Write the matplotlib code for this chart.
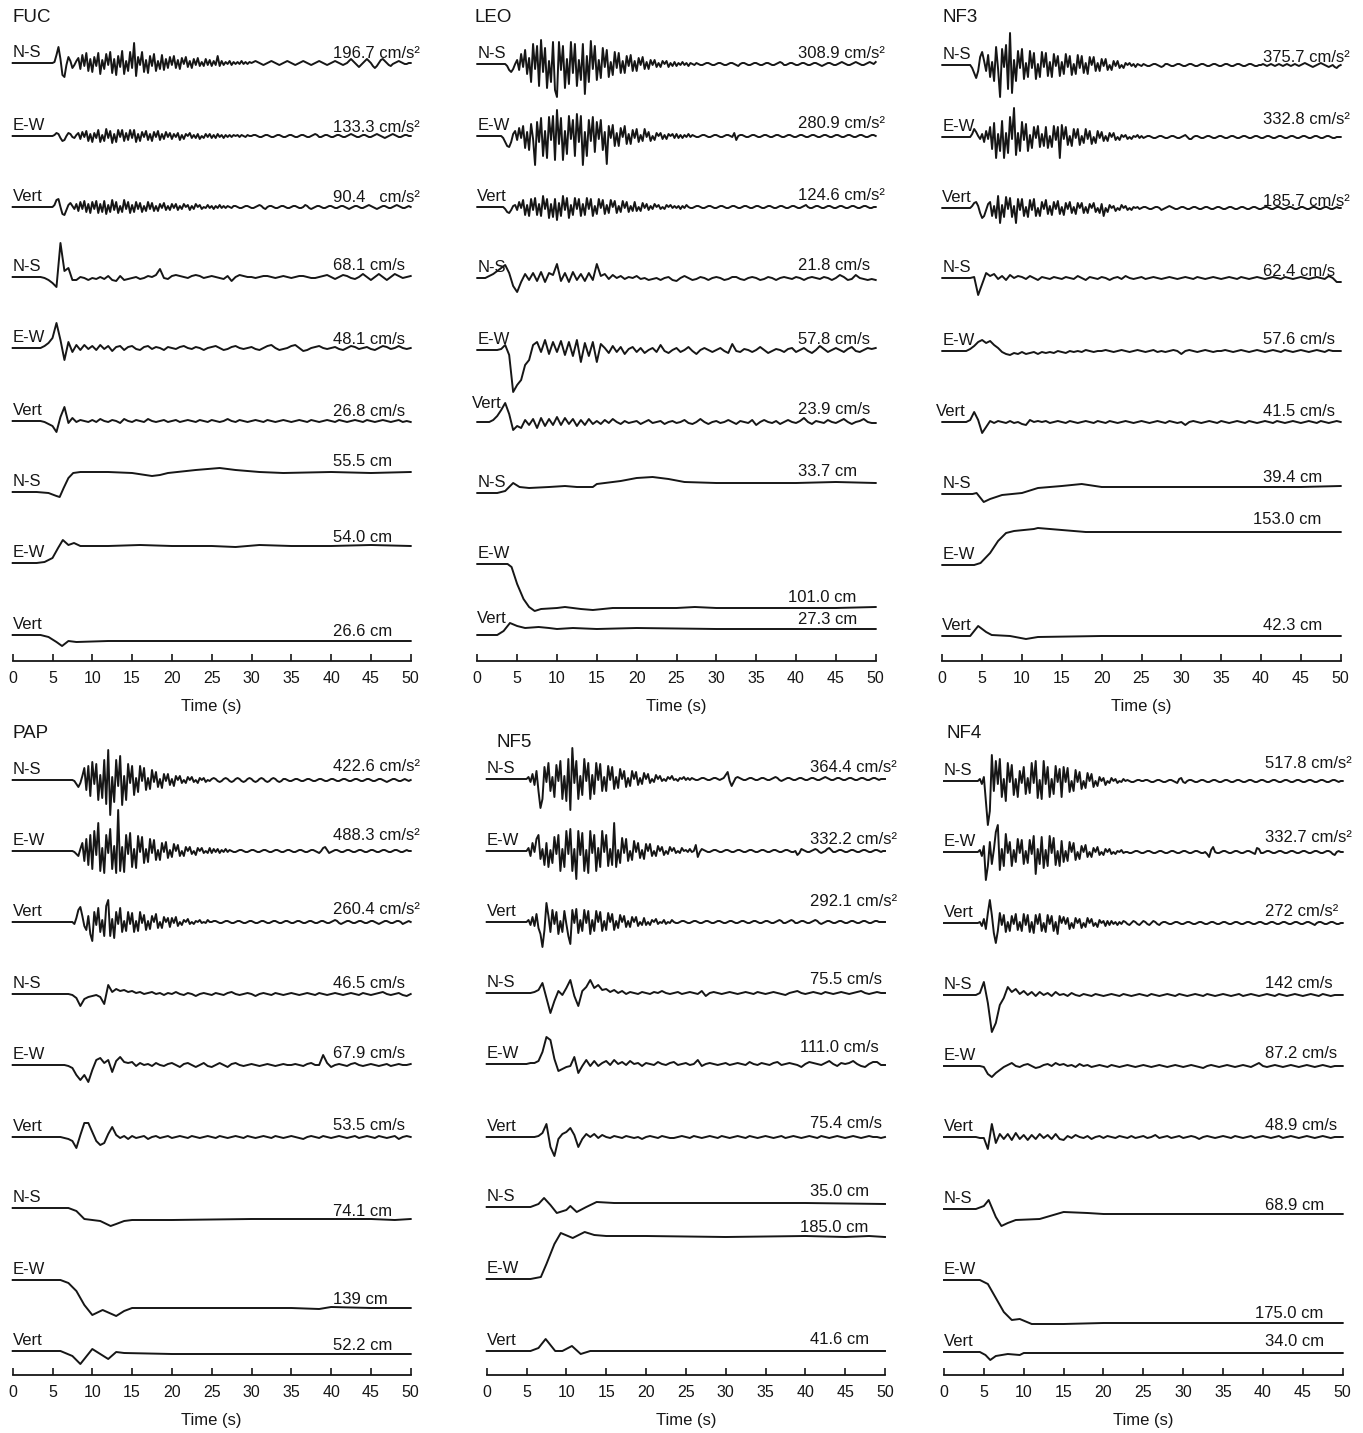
import numpy as np
import matplotlib
matplotlib.use('Agg')
import matplotlib.pyplot as plt

plt.rcParams['font.family'] = ['Liberation Sans', 'DejaVu Sans']

# ---- accelerations: one value every 0.25 s (0..50 s), deflection in px, up = positive
fuc_acc_ns = [0,0,0,0,0,0,0,0,0,0,0,0,0,0,0,0,0,0,0,0,
    0,1,8,16,4,-12,-14,-2,6,2,-5,-2,2,5,-6,8,-3,10,-8,4,
    -9,6,-3,10,-11,3,-6,9,-2,11,-10,4,-12,7,-4,12,-11,2,-8,11,
    -5,20,-13,6,-2,11,-9,3,-10,7,-3,9,-8,2,-6,8,-7,4,-5,6,
    -2,7,-5,3,-6,5,-1,6,-4,2,-5,4,-2,5,-3,1,-3,4,-2,3,
    -3,2,-2,7,-3,2,-2,1,-1,2,-2,1,-1,1,-1,2,-1,1,-1,1,
    0,1,2,1,0,-1,-2,-1,0,1,2,1,0,-1,-2,-1,0,1,2,1,
    0,-1,-2,-1,0,1,2,1,0,-1,-2,-1,0,1,2,1,0,-1,-2,-1,
    0,1,2,1,0,-1,-2,-1,0,2,4,2,0,-2,-4,-2,0,2,4,2,
    0,-3,-5,-3,0,3,4,2,0,-2,-3,-1,0,1,2,1,0,-1,-1,0, 0]
fuc_acc_ew = [0,0,0,0,0,0,0,0,0,0,0,0,0,0,0,0,0,0,0,0,
    0,1,3,2,-2,-5,-4,0,3,2,-1,-2,1,3,-3,4,-1,5,-5,2,
    -6,3,-2,6,-6,1,-5,7,-2,5,-7,2,-6,6,-1,6,-5,3,-4,6,
    -2,6,-6,2,-5,4,-1,5,-4,2,-5,4,-1,5,-4,2,-3,4,-1,3,
    -3,2,-1,3,-4,1,-3,2,0,3,-2,1,-2,2,-3,0,-2,2,-1,2,
    -2,1,-2,2,-1,1,-2,1,-1,1,-1,1,0,1,-1,1,0,-1,1,0,
    0,1,1,0,-1,-1,0,1,1,0,-1,-1,0,1,1,0,-1,-1,0,1,
    1,0,-1,-1,0,1,1,0,-1,-1,0,1,2,1,-1,-1,0,1,1,0,
    -1,-1,0,1,1,0,-1,-1,0,1,2,1,0,-1,-1,0,1,1,0,-1,
    -1,0,1,2,1,0,-1,-2,-1,0,1,2,1,0,-1,-1,0,1,1,0, 0]
fuc_acc_v = [0,0,0,0,0,0,0,0,0,0,0,0,0,0,0,0,0,0,0,0,
    0,2,7,8,0,-7,-8,-3,2,4,1,-2,3,-4,5,-2,6,-5,3,-6,
    5,-2,6,-6,3,-5,6,-7,2,-5,7,-3,5,-6,1,-5,7,-2,5,-6,
    2,-5,5,-2,4,-5,1,-4,5,-2,4,-4,1,-4,3,-1,4,-3,1,-3,
    3,-1,3,-3,1,-2,3,0,2,-3,1,-2,3,0,2,-2,0,-1,2,-1,
    1,-2,1,-1,2,-1,1,-1,1,0,-1,1,1,0,-1,-1,0,1,1,0,
    -1,-1,0,1,2,1,-1,-2,0,1,1,0,-1,-1,0,1,1,0,-1,-1,
    0,1,1,0,-1,-1,0,2,1,-1,-2,-1,0,1,1,0,-1,-1,0,1,
    1,0,-1,-1,0,1,1,0,-1,-2,-1,0,1,1,0,-1,-1,0,1,2,
    1,0,-1,-2,-1,0,1,1,0,-1,-1,0,1,2,1,0,-1,-1,0,1, 0]

leo_acc_ns = [0,0,0,0,0,0,0,0,0,0,0,0,0,0,0,-2,-6,-8,-5,0,
    4,-6,10,-3,14,-10,6,-18,20,-5,18,-22,24,-8,16,-24,3,-18,22,-26,
    -33,22,-6,18,-24,5,-20,22,-9,20,-22,4,-16,20,-30,8,-18,23,-5,18,
    -16,4,-14,16,-3,14,-13,2,-11,12,-4,11,-9,3,-9,8,-2,9,-7,3,
    -7,6,-1,7,-5,2,-5,4,-1,4,-3,1,-3,3,0,3,-3,1,-2,2,
    -2,1,-1,2,-1,1,-2,1,0,-1,1,0,-1,-1,0,1,1,0,-1,-1,
    0,1,1,0,-1,-1,0,1,1,0,-1,-2,0,1,1,0,-1,-1,0,1,
    1,0,-1,-1,0,1,1,0,-1,-1,0,1,2,1,-1,-1,0,1,1,0,
    -1,-1,0,1,1,0,-1,-1,0,1,1,0,-1,-2,-1,0,1,1,0,-1,
    -1,0,1,2,1,0,-1,-1,0,1,2,1,0,-1,-1,0,1,2,1,0, 2]
leo_acc_ew = [0,0,0,0,0,0,0,0,0,0,0,0,0,-2,-6,-10,-11,-6,2,5,
    -4,8,-2,10,-12,4,-14,12,-3,-29,14,-6,18,-20,5,-22,19,-4,20,-24,
    26,-8,18,-24,5,-18,20,-3,16,-20,22,-6,20,-29,4,-20,16,-5,19,-16,
    14,-3,16,-14,4,-28,10,-2,11,-10,3,-10,8,-1,10,-8,2,-8,6,-2,
    7,-6,1,-5,7,-1,4,-5,0,-4,3,0,3,-3,1,-3,2,0,2,-2,
    2,-2,1,-2,1,-1,2,-1,1,0,-1,-1,0,1,1,0,-1,-1,0,1,
    1,0,-1,-1,0,1,1,0,-1,3,-4,0,1,1,0,-1,-1,0,1,1,
    0,-1,-1,0,1,1,0,-1,-1,0,1,1,0,-1,-1,0,1,1,0,-1,
    -1,0,1,1,0,-1,-1,0,1,1,0,-1,-1,0,1,1,0,-1,-1,0,
    1,1,0,-1,-1,0,1,1,0,-1,-1,0,1,1,0,-1,-1,0,1,1, 0]
leo_acc_v = [0,0,0,0,0,0,0,0,0,0,0,0,0,0,-2,-5,-6,-3,1,2,
    -3,5,-1,7,-8,2,-9,8,-3,9,-8,3,-9,11,-2,8,-11,3,-10,8,
    -13,4,-9,11,-3,9,-11,2,-8,9,-2,8,-9,3,-8,9,-2,8,-9,1,
    -7,8,-1,7,-7,2,-6,7,0,6,-6,1,-5,6,-1,5,-5,1,-4,5,
    -4,0,-4,4,-1,3,-3,1,-2,3,0,2,-2,0,-2,2,0,2,-1,1,
    -1,1,-2,1,-1,2,0,-1,-1,0,1,1,0,-1,-1,0,1,1,0,-1,
    -1,0,1,1,0,-1,-1,0,1,1,0,-1,-1,0,1,1,0,-1,-1,0,
    1,1,0,-1,-1,0,1,1,0,-1,-1,0,1,1,0,-1,-1,0,1,1,
    0,-1,-1,0,1,2,0,-1,-1,0,1,1,0,-1,-1,0,1,1,0,-1,
    -1,0,1,1,0,-1,-1,0,1,1,0,-1,-1,0,1,1,0,-1,-1,0, 0]

nf3_acc_ns = [0,0,0,0,0,0,0,0,0,0,0,0,0,0,0,-3,-8,-13,-6,8,
    13,4,-6,10,-12,3,-16,18,-4,-32,16,-2,20,-24,32,-28,5,-16,14,-3,
    16,-14,2,-12,14,-3,12,-14,1,-12,13,-2,12,-11,3,-12,11,-1,9,-11,
    3,-9,11,-2,9,-10,1,-9,10,-3,9,-8,2,-9,8,0,8,-6,2,-6,
    6,-1,6,-5,0,-5,4,-1,4,-3,0,-3,2,0,2,-1,1,-2,1,0,
    -1,1,0,-1,-1,0,1,1,0,-1,-2,-1,1,1,0,-1,-1,0,1,1,
    0,-1,-1,0,1,1,0,-1,-1,0,1,1,0,-1,-1,0,1,1,0,-1,
    -1,0,1,1,0,-1,-1,0,1,1,0,-1,-1,0,1,1,0,-1,-1,0,
    0,1,0,-1,0,1,0,-1,0,1,0,-1,0,1,0,-1,0,1,0,-1,
    0,1,2,1,0,-1,-2,-1,0,1,2,1,0,-1,-2,-1,0,-2,-3,-1, 0]
nf3_acc_ew = [0,0,0,0,0,0,0,0,0,0,0,0,0,0,0,3,8,5,1,-2,
    3,-5,6,-2,10,-12,14,-21,3,-14,16,-21,4,-16,20,-2,29,-18,4,-14,
    15,-3,13,-14,2,-11,10,-1,11,-10,3,-9,10,-11,1,-10,11,-3,10,-21,
    12,-2,10,-8,1,-9,8,-1,8,-8,1,-6,8,-2,6,-7,0,-6,6,-1,
    5,-4,1,-4,4,0,4,-3,0,-3,2,0,2,-2,0,-2,1,0,2,-1,
    1,-1,0,1,1,0,-1,-1,0,1,1,0,-1,-1,0,1,1,0,-1,-1,
    0,1,2,0,-2,-2,0,1,1,0,-1,-1,0,1,1,0,-1,-1,0,1,
    1,0,-1,-1,0,1,1,0,-1,-1,0,1,1,0,-1,-1,0,1,1,0,
    -1,-1,0,1,1,0,-1,-1,0,1,1,0,-1,-1,0,1,1,0,-1,-1,
    0,1,1,0,-1,-1,0,1,1,0,-1,-1,0,1,1,0,-1,-1,0,0, 0]
nf3_acc_v = [0,0,0,0,0,0,0,0,0,0,0,0,0,0,0,2,5,6,2,-5,
    -10,-8,-2,4,6,-8,2,-10,12,-15,3,-9,11,-1,10,-9,2,-15,9,-2,
    9,-8,1,-9,8,-2,9,-8,0,-8,6,-1,8,-6,2,-7,6,-1,7,-6,
    1,-7,5,-1,6,-5,1,-6,5,0,5,-5,1,-5,4,0,5,-4,0,-5,
    4,-8,0,-4,3,0,2,-3,0,-2,3,0,2,-2,0,-2,1,0,1,-1,
    0,1,1,0,-1,-1,0,1,1,0,-2,-1,0,1,2,1,0,-1,-1,0,
    1,1,0,-1,-1,0,1,1,0,-1,-1,0,1,1,0,-1,-1,0,1,1,
    0,-1,-1,0,1,1,0,-1,-1,0,1,1,0,-1,-1,0,1,1,0,-1,
    -1,0,1,1,0,-1,-1,0,1,1,0,-1,-1,0,1,1,0,-1,-1,0,
    1,1,0,-1,-1,0,1,1,0,-1,-1,0,1,1,0,-1,-1,0,1,0, 0]

pap_acc_ns = [0,0,0,0,0,0,0,0,0,0,0,0,0,0,0,0,0,0,0,0,
    0,0,0,0,0,0,0,0,0,0,0,-1,-4,-7,-3,4,12,-10,14,-16,
    18,-4,16,-20,5,-18,20,-24,30,-35,3,-22,20,-6,24,-25,4,-20,16,-3,
    14,-15,2,-12,14,-1,12,-10,2,-9,10,-2,8,-7,1,-8,6,-1,6,-5,
    1,-6,4,0,4,-3,0,-3,3,0,3,-2,0,-3,2,0,2,-2,0,-1,
    1,2,1,-1,-2,-1,1,2,1,-1,-2,-1,1,2,1,-1,-2,-1,1,2,
    1,-1,-2,-1,1,2,1,-1,-2,-1,1,2,1,-1,-2,-1,1,1,0,-1,
    -1,0,1,1,0,-1,-1,0,1,1,0,-1,-1,0,1,1,0,-1,-1,0,
    1,1,0,-1,-1,0,1,1,0,-1,-1,0,1,1,0,-1,-1,0,1,1,
    0,-1,-1,0,1,1,0,-1,-2,-1,0,1,1,0,-1,-1,0,1,0,-1, 0]
pap_acc_ew = [0,0,0,0,0,0,0,0,0,0,0,0,0,0,0,0,0,0,0,0,
    0,0,0,0,0,0,0,0,0,0,0,-1,-3,-5,2,8,-10,12,-14,16,
    -18,20,-4,28,-20,3,-22,16,-2,22,-18,5,-22,41,-20,4,-21,16,-3,18,
    -16,2,-17,15,-1,14,-12,2,-11,12,-2,11,-9,1,-9,8,-1,9,-7,1,
    -6,7,0,6,-5,0,-5,4,0,4,-3,0,-4,3,0,3,-2,0,-2,3,
    -2,2,-1,2,-2,1,-1,2,-1,1,0,-1,-1,0,1,1,0,-1,-1,0,
    1,1,0,-1,-1,0,1,1,0,-1,-1,0,1,1,0,-1,-1,0,1,1,
    0,-1,-1,0,1,1,0,-1,-1,0,1,1,0,-1,-2,0,3,4,1,-2,
    -1,0,1,1,0,-1,-1,0,1,1,0,-1,-1,0,1,1,0,-1,-1,0,
    1,1,0,-1,-1,0,1,1,0,-1,-1,0,1,1,0,-1,-1,0,1,0, 0]
pap_acc_v = [0,0,0,0,0,0,0,0,0,0,0,0,0,0,0,0,0,0,0,0,
    0,0,0,0,0,0,0,0,0,0,0,-2,4,12,15,6,-4,-8,6,-12,
    -19,10,-3,14,-10,2,-14,16,22,-14,3,-16,10,-2,14,-10,1,-9,10,-2,
    9,-10,1,-9,10,-1,7,-8,1,-7,6,0,8,-6,0,-6,5,0,4,-5,
    4,-1,5,-4,0,-3,2,0,3,-2,0,-2,1,0,2,-1,0,-1,2,0,
    0,1,1,0,-1,-1,0,1,1,0,-1,-1,0,1,1,0,-1,-1,0,1,
    1,0,-1,-1,0,1,1,0,-1,-1,0,1,1,0,-1,-1,0,1,1,0,
    -1,-1,0,1,1,0,-1,-1,0,1,1,0,-1,-1,0,1,1,0,-1,-1,
    0,1,2,1,-1,-2,-1,0,1,1,0,-1,-1,0,1,1,0,-1,-1,0,
    1,1,0,-1,-2,-1,0,1,1,0,-1,-1,0,1,1,0,-2,-1,0,1, 0]

nf5_acc_ns = [0,0,0,0,0,0,0,0,0,0,0,0,0,0,0,0,0,0,0,0,
    0,2,-3,5,-6,8,-12,-29,-20,12,-3,16,-12,2,-18,14,-2,18,-20,3,
    -22,20,-31,31,-4,18,-20,3,-16,20,-2,16,-20,4,-15,16,-1,15,-12,2,
    -12,13,-1,12,-10,2,-9,10,0,8,-8,1,-7,8,0,7,-6,1,-5,6,
    0,5,-4,0,-3,4,0,3,-2,0,-2,2,0,3,-1,0,-2,1,0,2,
    -1,1,-1,1,0,-1,-1,0,1,1,0,-1,-1,0,1,1,0,-1,0,1,
    4,7,-2,-7,-3,1,2,1,0,-1,-1,0,1,1,0,-1,-1,0,1,1,
    0,-1,-1,0,1,2,1,-1,-2,-1,0,1,1,0,-1,-1,0,1,1,0,
    -1,-1,0,1,1,0,-1,-1,0,1,2,1,0,-1,-1,0,1,1,0,-1,
    -1,0,1,1,0,-1,-1,0,1,1,0,-1,-1,0,1,1,0,-1,0,0, 0]
nf5_acc_ew = [0,0,0,0,0,0,0,0,0,0,0,0,0,0,0,0,0,0,0,0,
    0,3,-5,8,-1,12,16,-8,2,-14,8,-16,1,-12,14,-3,16,-20,2,-16,
    20,-3,22,-20,2,-28,20,-4,18,-20,1,-22,20,-2,16,-20,3,-16,20,-1,
    16,-15,2,-14,28,-16,1,-12,13,-2,12,-10,0,-9,10,-1,8,-7,1,-8,
    7,0,7,-5,0,-5,5,0,4,-4,0,-3,4,0,3,-2,0,-2,3,0,
    1,-1,2,-1,0,6,-6,-1,2,1,0,-1,-1,0,1,1,0,-1,-1,0,
    1,1,0,-1,-1,0,1,1,0,-1,-1,0,1,1,0,-1,-1,0,1,1,
    0,-1,-1,0,1,1,0,-1,-1,0,1,1,0,-1,-1,0,-4,-2,2,1,
    0,-1,-1,0,1,2,1,-1,-2,-1,0,2,3,1,-1,-1,0,1,1,0,
    -1,-1,0,1,1,0,-1,-1,0,1,1,0,-1,-1,0,1,1,0,-1,0, 0]
nf5_acc_v = [0,0,0,0,0,0,0,0,0,0,0,0,0,0,0,0,0,0,0,0,
    0,2,-3,5,-4,8,-6,-12,-25,-8,19,6,-10,12,-2,10,-12,1,-10,11,
    -2,-14,-22,12,-1,13,-11,2,-9,12,-1,11,-12,2,-9,11,0,10,-9,1,
    -8,9,0,8,-8,1,-6,7,0,6,-5,1,-5,5,0,5,-4,0,-3,4,
    -3,0,-3,2,0,3,-2,0,-1,2,-2,0,-1,2,0,-1,-1,0,1,1,
    0,-1,-1,0,1,1,0,-1,-1,0,1,1,0,-1,-1,0,1,1,0,-1,
    -1,0,1,1,0,-1,-1,0,1,1,0,-1,-1,0,1,1,0,-1,-1,0,
    1,1,0,-1,-1,0,1,2,1,-1,-1,0,1,2,1,-1,-1,0,1,1,
    0,-1,-1,0,1,2,1,-1,-2,-1,0,1,1,0,-1,-1,0,1,1,0,
    -1,-1,0,1,1,0,-1,-1,0,1,1,0,-1,-1,0,1,1,0,0,0, 0]

nf4_acc_ns = [0,0,0,0,0,0,0,0,0,0,0,0,0,0,0,0,0,0,2,-3,
    4,-20,-44,-30,26,-10,20,-3,22,-16,2,-20,18,-1,16,-14,2,-16,10,-2,
    14,-13,3,-12,18,-2,20,-17,1,-18,20,-3,14,-16,2,-13,15,-1,12,-16,
    14,-1,13,-11,0,-10,11,-1,9,-8,0,-7,8,0,7,-6,0,-5,4,0,
    3,-4,0,-2,3,0,2,-2,0,-1,2,0,1,0,-1,-1,0,1,1,0,
    0,1,1,0,-1,-1,0,1,1,0,-1,-1,0,1,1,0,-1,-2,2,3,
    -1,-2,0,1,1,0,-1,-1,0,1,1,0,-1,-1,0,1,1,0,-1,-1,
    0,1,1,0,-1,-1,0,1,1,0,-1,-1,0,1,1,0,-1,-1,0,1,
    1,0,-1,-1,0,1,1,0,-1,-1,0,1,1,0,-1,-1,0,1,1,0,
    -1,-1,0,1,1,0,-1,-1,0,1,1,0,-1,-1,0,1,1,0,-1,0, 0]
nf4_acc_ew = [0,0,0,0,0,0,0,0,0,0,0,0,0,0,0,0,0,0,2,-4,
    6,-28,-14,10,-12,2,20,27,-18,3,-14,18,-1,10,-14,2,-10,13,-1,12,
    -12,1,-11,12,-2,16,-22,3,-12,15,-16,2,-14,16,-1,14,-13,1,-14,11,
    -10,1,-9,10,0,9,-8,0,-7,6,0,7,-5,0,-5,4,0,5,-3,0,
    -3,3,0,3,-2,0,-2,1,0,2,-1,0,0,-1,-1,0,1,1,0,-1,
    -1,0,1,1,0,-1,-1,0,1,1,0,-1,-1,0,1,1,0,-1,-1,0,
    1,1,0,-1,-1,0,1,1,0,-1,-1,0,-2,-5,2,5,0,-1,-1,0,
    1,1,0,-1,-1,0,1,1,0,-1,-1,0,1,1,0,-1,-2,4,3,-1,
    -1,0,1,1,0,-1,-1,0,1,1,0,-1,-1,0,1,1,0,-1,-1,0,
    1,1,0,-1,-1,0,1,1,0,-1,-1,0,1,1,0,-2,-3,0,1,0, 0]
nf4_acc_v = [0,0,0,0,0,0,0,0,0,0,0,0,0,0,0,0,0,0,1,-3,
    4,-6,10,23,8,-10,-20,-8,10,-2,8,-9,1,-8,7,-1,9,-7,1,-8,
    9,-2,8,-9,1,-10,8,-1,9,-8,0,-9,8,-1,7,-8,1,-11,7,0,
    6,-1,5,-6,0,-5,5,0,4,-5,0,-4,5,0,4,-3,0,-4,3,0,
    2,-3,2,-2,2,-1,1,-2,1,-1,2,1,-1,-2,0,2,1,-1,-2,0,
    2,1,-1,-2,0,2,1,-1,-2,0,1,1,0,-1,-1,0,1,1,0,-1,
    -1,0,1,1,0,-1,-1,0,1,1,0,-1,-1,0,1,1,0,-1,-1,0,
    1,1,0,-1,-1,0,1,1,0,-1,-1,0,1,1,0,-1,-1,0,1,1,
    0,-1,-1,0,1,1,0,-1,-1,0,1,1,0,-1,-1,0,1,1,0,-1,
    -1,0,1,1,0,-1,-2,0,1,1,0,-1,-1,0,1,1,0,-1,-1,0, 0]

# ---- velocities: one value every 0.5 s
fuc_vel_ns = [0,0,0,0,0,0,0,0,-1,-3, -6,-10,34,6,9,-3,-3,0,-1,-3, -1,-2,0,-2,1,-3,-4,1,-3,-2,
    -1,0,-2,-1,1,0,2,8,-1,-2, 1,2,1,0,-1,1,2,1,-1,0, 1,0,-1,-2,1,-4,0,2,1,0,
    0,-1,0,1,1,0,-1,0,1,0, -1,0,1,1,0,-1,-1,0,1,2, 0,-2,0,2,1,-1,-2,0,3,0,
    -3,0,3,0,-3,0,3,1,-1,0, 1]
fuc_vel_ew = [0,0,0,0,0,0,0,0,2,5, 10,25,8,-12,6,-4,3,-2,3,-1, 2,-2,3,-1,2,-3,1,2,-2,1,
    2,-1,-2,1,2,-1,1,0,-2,1, 0,-1,1,2,0,-1,1,0,-2,0, 1,2,0,-2,-1,1,2,0,-1,0,
    1,-1,-2,0,2,3,0,-2,-1,0, 2,3,0,-3,-2,0,1,2,0,-1, 0,1,-1,-2,0,2,1,-1,0,1,
    -1,-2,0,2,1,-1,0,2,0,-1, 0]
fuc_vel_v = [0,0,0,0,0,0,0,0,-1,-3, -5,-11,4,14,-2,3,-1,1,0,-1, 1,-1,2,0,-1,1,0,-2,2,0,
    -1,1,0,-1,2,0,-1,0,1,-1, 0,1,-1,0,1,0,-1,1,0,-1, 1,0,-1,0,2,0,-1,1,0,-1,
    0,1,0,-1,1,0,-1,0,1,0, -1,0,1,0,-1,1,0,-1,0,1, 0,-1,1,0,-1,0,1,0,-1,1,
    0,-1,0,1,0,-1,0,1,-1,0, -1]

leo_vel_ns = [0,0,0,2,4,7,10,13,5,-8, -14,-4,4,-2,5,-3,6,-4,5,3, 14,-3,5,-4,6,-2,4,-3,5,-2,
    14,2,4,-1,3,0,2,-1,1,0, 2,-1,0,-2,-1,0,-2,0,1,-2, -3,0,2,0,-2,-1,1,0,-2,0,
    1,0,-2,-1,1,1,-1,-2,0,1, 0,-2,-1,1,0,-2,0,1,0,-1, 1,0,-2,0,1,0,-1,1,0,-2,
    0,3,1,-2,-1,3,0,-1,-2,-1, -2]
leo_vel_ew = [0,0,0,0,0,0,1,5,-5,-42, -35,-30,-15,-10,5,8,-2,10,-4,8, -2,9,-5,8,-6,10,-12,7,-6,8,
    -12,6,2,-3,4,-2,3,-4,1,3, -2,2,-3,0,2,-2,5,-1,-3,0, 2,-2,0,3,-1,-4,0,2,0,-2,
    0,2,-1,-3,6,-1,-2,1,0,-2, 0,3,0,-3,-1,1,0,-2,1,2, -2,0,2,-1,-3,0,4,1,-2,0,
    2,0,-2,1,3,-1,-2,0,2,1, 2]
leo_vel_v = [0,0,0,0,2,6,12,19,8,-8, -4,-6,2,-3,3,-6,4,-4,3,-3, 5,-3,4,-2,3,-4,2,-3,3,-2,
    1,-2,2,-1,3,0,-2,1,-1,0, 1,-2,0,2,-1,0,1,-2,0,1, -1,0,2,-1,-2,0,3,0,-2,0,
    1,-1,0,2,0,-2,1,0,-1,2, -3,0,2,0,-1,1,-2,0,2,0, -1,1,4,0,-2,1,0,-1,2,0,
    -1,1,3,0,-2,0,1,3,0,-1, -1]

nf3_vel_ns = [0,0,0,0,0,0,0,0,1,-17, -6,5,2,4,-1,2,-2,3,0,2, 1,-1,2,0,-2,1,0,-1,1,0,
    -1,1,0,-1,2,0,-2,1,0,-1, 1,0,-2,0,1,-1,2,0,-1,0, 1,-1,0,1,0,-1,0,1,0,-1,
    0,1,0,-1,1,0,-1,0,1,0, -1,0,1,0,-1,1,0,-1,0,1, 0,-1,0,1,0,-1,1,0,-1,0,
    1,0,-1,0,1,0,-1,2,0,-4, -4]
nf3_vel_ew = [0,0,0,0,0,0,0,2,5,9, 11,8,10,6,3,-1,-3,-4,-2,-3, -1,-3,-2,-1,-3,-1,-2,-1,-2,0,
    -1,-2,0,-1,0,-1,1,0,-1,0, 0,1,0,-1,0,1,0,-1,0,1, 0,-1,0,1,-1,0,-1,0,1,0,
    -3,0,1,0,-1,0,1,0,-1,0, 0,1,0,-1,0,1,0,-1,0,1, 0,-1,0,1,0,-1,1,0,-1,0,
    1,0,-1,0,1,0,-1,1,0,0, 0]
nf3_vel_v = [0,0,0,0,0,0,0,2,10,2, -11,-5,1,-1,1,0,-1,1,-1,0, -2,-3,2,0,1,0,1,-1,0,1,
    0,-1,1,0,-1,0,1,0,-1,1, 0,-1,1,0,-1,0,1,0,-1,0, 1,0,-1,0,1,0,-1,1,0,-1,
    0,-3,0,1,0,-1,0,1,0,-1, 1,0,-1,0,1,0,-1,1,0,-1, 0,1,0,-1,1,0,-1,0,1,0,
    -1,0,1,0,-1,1,0,-1,0,1, 0]

pap_vel_ns = [0,0,0,0,0,0,0,0,0,0, 0,0,0,0,0,-1,-4,-12,-5,-3, -2,-1,-3,-10,9,2,5,3,4,2,
    3,1,2,0,1,2,0,1,-1,1, 0,2,0,-1,1,0,-2,0,1,0, -1,1,0,-1,1,2,0,-1,0,1,
    0,-2,0,1,0,-1,1,0,-1,0, 1,0,-1,0,1,0,-1,1,0,-1, 0,1,0,-1,0,1,0,-1,1,0,
    -1,0,1,2,0,-1,0,1,-1,-2, 0]
pap_vel_ew = [0,0,0,0,0,0,0,0,0,0, 0,0,0,0,-1,-3,-10,-15,-10,-17, -5,5,7,2,5,-7,4,8,3,2,
    3,-1,2,0,1,-1,2,0,-1,1, 2,0,-2,1,2,0,-2,0,2,-1, -2,0,2,0,-2,1,2,0,-1,0,
    1,0,-1,0,1,0,-1,0,1,0, 0,1,0,-1,1,2,0,0,10,2, -2,0,1,0,-1,1,2,0,-1,0,
    1,0,-1,0,1,-1,0,1,0,0, 1]
pap_vel_v = [0,0,0,0,0,0,0,0,0,0, 0,0,0,-1,-2,-4,-11,2,14,14, 5,-4,-8,-6,3,10,2,-1,1,-2,
    1,-1,0,1,-2,0,1,-1,0,1, -1,0,1,0,-1,1,0,-1,0,1, 0,-1,1,0,-1,0,1,0,-1,1,
    0,-1,0,1,0,-1,1,0,-1,0, 1,0,-1,-2,0,1,0,-1,1,0, -1,0,1,0,-1,0,1,-1,0,1,
    0,-1,1,0,-1,0,1,-2,0,1, 0]

nf5_vel_ns = [0,0,0,0,0,0,0,0,0,0, 0,0,1,3,10,-5,-20,-8,2,-2, 5,13,-3,-13,2,6,13,5,8,3,
    4,1,3,0,2,-1,1,0,-1,1, 0,-1,1,0,2,0,-1,0,1,-1, 0,1,0,-1,2,-3,0,1,0,-1,
    0,1,0,-1,0,1,0,-1,1,0, -1,0,1,0,-1,-2,0,1,2,0, -1,0,1,0,-1,1,0,-1,0,1,
    0,-1,0,1,2,0,-1,0,1,0, 0]
nf5_vel_ew = [0,0,0,0,0,0,0,0,0,0, 0,1,1,3,12,27,24,5,-7,-5, -3,-2,7,-9,-2,4,-2,3,-2,1,
    3,-1,4,0,2,-1,3,0,1,-2, 1,0,-1,2,0,-1,1,2,-1,0, 1,-1,0,4,-2,0,1,0,-1,0,
    1,-1,0,1,0,-1,2,0,-1,1, 0,-1,1,2,-1,0,1,0,-1,-3, 0,2,1,0,-1,1,3,0,-2,1,
    0,1,3,0,-2,-3,0,2,2,-1, -1]
nf5_vel_v = [0,0,0,0,0,0,0,0,0,0, 0,0,0,1,4,13,-10,-19,-2,3, 5,9,2,-10,-2,3,0,3,-1,2,
    0,-1,1,0,-1,1,0,-1,0,-2, 0,1,0,-1,1,0,-1,-1,0,1, 0,-1,1,0,-1,0,1,0,-1,1,
    0,-1,0,1,0,-1,1,0,-1,0, 1,0,-1,0,1,-1,0,1,0,-1, 0,1,0,-1,1,0,-1,0,1,0,
    -1,0,1,0,-1,0,1,0,0,-1, 0]

nf4_vel_ns = [0,0,0,0,0,0,0,0,0,2, 13,-8,-37,-28,-10,-3,8,3,6,1, 4,0,3,-1,3,0,2,-1,3,0,
    1,-1,2,0,-1,1,0,-1,1,0, -1,0,1,0,-1,1,0,-1,0,1, 0,-1,1,0,-1,0,1,0,-1,1,
    0,-1,0,1,0,-1,1,0,-1,0, 1,0,-1,0,1,-1,0,1,0,-1, 0,1,0,-1,1,0,-1,0,1,0,
    -1,0,1,0,-1,1,0,-1,0,0, 0]
nf4_vel_ew = [0,0,0,0,0,0,0,0,0,0, -1,-8,-11,-7,-4,-1,1,3,0,-1, 1,2,0,-2,-1,1,2,0,3,1,
    2,0,1,-1,2,0,1,-1,0,1, 0,-1,1,0,-1,0,1,0,-1,0, 1,0,-1,0,1,0,-1,0,1,0,
    -1,0,1,0,-1,-2,0,1,0,-1, 0,1,0,-1,0,1,0,-1,1,3, 0,-1,0,1,0,-1,0,1,0,-1,
    0,1,0,-1,0,1,0,-1,0,0, 0]
nf4_vel_v = [0,0,0,0,0,0,0,0,0,-1, -1,-12,13,-6,3,-2,3,-3,4,-2, 2,-3,2,-2,3,-1,2,-2,3,-2,
    -3,1,-1,2,0,-1,1,-2,0,1, -1,1,0,-1,1,0,-1,1,-1,0, 1,-1,0,2,-1,0,1,-1,0,1,
    -1,0,1,0,-2,0,1,0,-1,0, 1,0,-1,1,0,-1,0,1,-1,0, 1,0,-1,0,1,-1,0,1,0,-1,
    0,1,0,-1,0,1,0,-1,0,0, 0]

# ---- displacements: (time s, deflection px) pairs
fuc_dis_ns = [(0,0),(3,0),(4.5,-1),(5.5,-4),(5.9,-5),(6.4,4),(7,14),(7.6,19),(8.5,20),(12,20),(15,19),
    (17.5,16),(18.5,17),(19.5,19),(23,22),(26,24),(28,22),(31,20),(34,19),(40,20),(45,19),(50,20)]
fuc_dis_ew = [(0,0),(3,0),(4,1),(5,5),(5.7,15),(6.3,23),(7,18),(7.7,20),(8.5,17),(12,17),(16,18),
    (20,17),(25,17),(28,16),(31,18),(35,17),(40,17),(45,18),(50,17)]
fuc_dis_v = [(0,0),(3.5,0),(4.5,-2),(5.5,-7),(6.2,-11),(7,-6),(8,-7),(12,-6),(20,-6),(30,-6),(40,-6),(50,-6)]

leo_dis_ns = [(0,0),(2.5,0),(3.5,2),(4.5,10),(5.3,6),(6.5,5),(9,6),(11,7),(12.5,6),(14.5,6),(15,9),
    (18,12),(20,15),(22,16),(24,14),(26,11),(30,10),(35,10),(40,10),(45,11),(50,10)]
leo_dis_ew = [(0,0),(3.8,0),(4.3,-3),(5,-20),(5.8,-35),(6.5,-43),(7.2,-47),(8,-45),(10,-44),(11,-43),
    (13,-45),(14.5,-46),(17,-44),(20,-44),(25,-44),(27.3,-43),(30,-44),(35,-44),(40,-44),(45,-44),(50,-43)]
leo_dis_v = [(0,0),(2.5,0),(3.3,4),(4.1,12),(5,9),(6,7),(7.7,8),(9,7),(10,6),(12,7),(15,6),(20,7),
    (30,6),(40,6),(50,6)]

nf3_dis_ns = [(0,0),(3.8,0),(4.3,1),(5.2,-8),(6,-5),(7.5,-1),(10,1),(12,6),(15,8),(17.5,10),(20,7),
    (25,7),(30,7),(40,7),(45,7),(50,8)]
nf3_dis_ew = [(0,0),(4,0),(4.8,2),(6,12),(7,24),(8,32),(9,34),(11.5,36),(12,37),(15,35),(18,33),
    (25,33),(30,33),(40,33),(45,33),(50,33)]
nf3_dis_v = [(0,0),(3.5,0),(4.5,10),(5.5,4),(6.2,1),(8.5,0),(10.5,-3),(12,-1),(20,0),(30,0),(40,0),(50,0)]

pap_dis_ns = [(0,0),(7,0),(8,-3),(9,-11),(11,-13),(12.3,-18),(13,-16),(14,-13),(15,-12),(20,-12),
    (30,-11),(40,-11),(45,-11),(48,-12),(50,-11)]
pap_dis_ew = [(0,0),(6,0),(7,-3),(8,-11),(9,-25),(10,-35),(11.3,-30),(13,-36),(14,-31),(15,-28),
    (20,-28),(30,-28),(35,-28),(38.5,-29),(40,-27),(45,-28),(50,-28)]
pap_dis_v = [(0,0),(6,0),(7.5,-5),(8.5,-13),(10,2),(12,-8),(13,-1),(14,-2),(20,-3),(30,-3),(40,-3),(50,-3)]

nf5_dis_ns = [(0,0),(5.5,0),(6.5,3),(7.2,9),(8,2),(8.8,-6),(10,-3),(10.5,1),(11.3,-5),(12.5,0),
    (13.8,5),(16,4),(20,4),(30,4),(40,4),(50,3)]
nf5_dis_ew = [(0,0),(5.5,0),(6.8,2),(7.5,15),(8.5,35),(9.3,46),(10.8,41),(12.3,47),(13.5,44),(15,43),
    (20,43),(30,42),(40,43),(45,42),(48,43),(50,42)]
nf5_dis_v = [(0,0),(5.5,0),(6.5,3),(7.4,12),(8.6,0),(9.5,0),(10.7,5),(11.8,-3),(13,0),(20,0),(30,0),
    (40,0),(50,0)]

nf4_dis_ns = [(0,0),(4,0),(5,3),(5.6,9),(6.5,-8),(7.2,-17),(8,-14),(9,-11),(12,-10),(15,-3),(18,-4),
    (20,-5),(30,-5),(40,-5),(50,-5)]
nf4_dis_ew = [(0,0),(4.5,0),(5.5,-4),(6.5,-18),(7.5,-32),(8.5,-40),(9.5,-39),(11,-44),(15,-44),
    (20,-43),(30,-43),(40,-43),(50,-43)]
nf4_dis_v = [(0,0),(4.5,0),(5.2,-3),(5.8,-8),(6.5,-4),(8,-2),(9.5,-3),(10,-1),(20,-1),(30,-1),(40,-1),(50,-1)]

# peak values printed at the right of each trace
fuc_peak = ['196.7', '133.3', '90.4  ', '68.1', '48.1', '26.8', '55.5', '54.0', '26.6']
leo_peak = ['308.9', '280.9', '124.6', '21.8', '57.8', '23.9', '33.7', '101.0', '27.3']
nf3_peak = ['375.7', '332.8', '185.7', '62.4', '57.6', '41.5', '39.4', '153.0', '42.3']
pap_peak = ['422.6', '488.3', '260.4', '46.5', '67.9', '53.5', '74.1', '139', '52.2']
nf5_peak = ['364.4', '332.2', '292.1', '75.5', '111.0', '75.4', '35.0', '185.0', '41.6']
nf4_peak = ['517.8', '332.7', '272', '142', '87.2', '48.9', '68.9', '175.0', '34.0']

comps = ['N-S', 'E-W', 'Vert'] * 3
units = ['cm/s\u00b2'] * 3 + ['cm/s'] * 3 + ['cm'] * 3

W, H = 1363, 1433
ink = '#161616'
fig = plt.figure(figsize=(W / 100, H / 100), dpi=100)
fig.patch.set_facecolor('white')

# layout in pixels: name, traces, peaks, x of t=0, x of t=50, axis y, top y,
# trace baselines, value-label y, value-label x, title x, title y, label tweaks {i: (dx, dy)}
panels = [
    ('FUC', [fuc_acc_ns, fuc_acc_ew, fuc_acc_v, fuc_vel_ns, fuc_vel_ew, fuc_vel_v, fuc_dis_ns, fuc_dis_ew, fuc_dis_v],
     fuc_peak, 12.7, 410.7, 661, 0, [63, 136, 207, 277, 348, 421, 492, 563, 635],
     [53, 127, 197, 265, 339, 412, 462, 537, 632], 333, 12, 18, {}),
    ('LEO', [leo_acc_ns, leo_acc_ew, leo_acc_v, leo_vel_ns, leo_vel_ew, leo_vel_v, leo_dis_ns, leo_dis_ew, leo_dis_v],
     leo_peak, 477.3, 875.7, 661, 0, [64, 136, 207, 278, 350, 422, 493, 564, 635],
     [53, 124, 196, 265, 340, 409, 472, 597, 619], 798, 474, 18, {5: (-5, -8), 8: (0, -6)}),
    ('NF3', [nf3_acc_ns, nf3_acc_ew, nf3_acc_v, nf3_vel_ns, nf3_vel_ew, nf3_vel_v, nf3_dis_ns, nf3_dis_ew, nf3_dis_v],
     nf3_peak, 942.3, 1340.7, 661, 0, [65, 137, 208, 278, 351, 422, 494, 565, 636],
     [58, 119, 202, 272, 339, 412, 478, 519, 626], 1263, 942, 18, {5: (-6, 0)}),
    ('PAP', [pap_acc_ns, pap_acc_ew, pap_acc_v, pap_vel_ns, pap_vel_ew, pap_vel_v, pap_dis_ns, pap_dis_ew, pap_dis_v],
     pap_peak, 12.7, 410.7, 1375, 715, [780, 851, 922, 994, 1065, 1137, 1208, 1280, 1351],
     [766, 836, 909, 984, 1054, 1126, 1211, 1299, 1346], 333, 12, 733, {}),
    ('NF5', [nf5_acc_ns, nf5_acc_ew, nf5_acc_v, nf5_vel_ns, nf5_vel_ew, nf5_vel_v, nf5_dis_ns, nf5_dis_ew, nf5_dis_v],
     nf5_peak, 486.7, 885.0, 1375, 715, [779, 851, 922, 993, 1064, 1137, 1207, 1279, 1351],
     [767, 839, 902, 979, 1048, 1124, 1192, 1228, 1339], 810, 496, 742, {}),
    ('NF4', [nf4_acc_ns, nf4_acc_ew, nf4_acc_v, nf4_vel_ns, nf4_vel_ew, nf4_vel_v, nf4_dis_ns, nf4_dis_ew, nf4_dis_v],
     nf4_peak, 944.0, 1342.7, 1375, 715, [781, 852, 923, 995, 1066, 1137, 1209, 1280, 1352],
     [763, 837, 912, 984, 1053, 1126, 1206, 1313, 1342], 1265, 946, 733, {}),
]

for (name, traces, peaks, px0, px1, y_ax, y_top, base, val_y, val_x, tx, ty, fix) in panels:
    ax = fig.add_axes([px0 / W, 1 - y_ax / H, (px1 - px0) / W, (y_ax - y_top) / H])
    ax.patch.set_visible(False)
    ax.set_xlim(0, 50)
    ax.set_ylim(y_ax, y_top)
    sec = lambda px: (px - px0) / (px1 - px0) * 50.0   # pixel x -> seconds

    for k, tr in enumerate(traces):
        if k < 6:
            t = np.linspace(0, 50, len(tr))
            v = np.array(tr, dtype=float)
        else:
            t, v = np.array(tr, dtype=float).T
        ax.plot(t, base[k] - v, color=ink, lw=1.4, solid_joinstyle='round', clip_on=False)

        dx, dy = fix.get(k, (0, 0))
        ax.text(sec(px0 + dx), base[k] - 6 + dy, comps[k], fontsize=12, color=ink,
                ha='left', va='baseline')
        shift = -10 if (k >= 3 and len(peaks[k]) == 5) else 0
        ax.text(sec(val_x + shift), val_y[k], peaks[k] + ' ' + units[k], fontsize=12,
                color=ink, ha='left', va='center')

    ax.text(sec(tx), ty, name, fontsize=13.5, color=ink, ha='left', va='center')
    ax.text(25, y_ax + 46, 'Time (s)', fontsize=12, color=ink, ha='center', va='center')

    for s in ['top', 'left', 'right']:
        ax.spines[s].set_visible(False)
    ax.spines['bottom'].set_linewidth(1.3)
    ax.spines['bottom'].set_color(ink)
    ax.set_yticks([])
    ax.set_xticks(np.arange(0, 51, 5))
    ax.tick_params(axis='x', direction='in', length=5, width=1.2, colors=ink,
                   labelsize=11.5, pad=7)

fig.savefig('out.png', dpi=100, facecolor='white')
